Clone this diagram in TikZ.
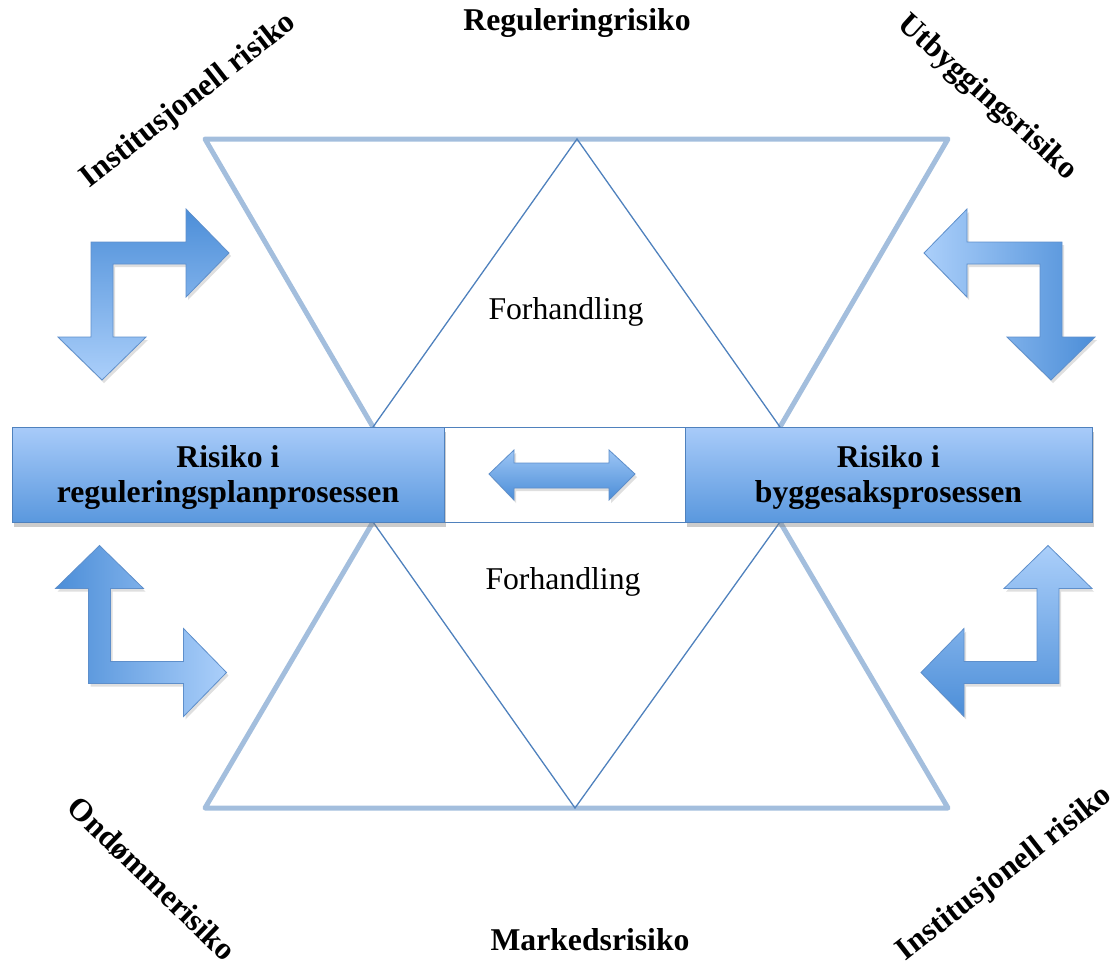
\documentclass[tikz,border=0pt]{standalone}
\usepackage{fontspec}
\setmainfont{Liberation Serif}
\usetikzlibrary{shadows}

\definecolor{edgelight}{HTML}{A3BEDD}
\definecolor{edgedark}{HTML}{4F81BD}
\definecolor{boxtop}{HTML}{A8CBF9}
\definecolor{boxbot}{HTML}{5A98DE}
\definecolor{arrowdark}{HTML}{4C8ED8}
\definecolor{arrowlight}{HTML}{ABCFFA}
\definecolor{arrowedge}{HTML}{5E8FCB}

% Bent two-headed arrow: corner centre (#1,#2), arm directions #3 (x) and #4 (y),
% shading options #5.
\newcommand\bentarrow[5]{%
  \shade[draw=arrowedge,line width=0.8pt,#5,
         drop shadow={opacity=0.25,shadow xshift=2pt,shadow yshift=-3pt}]
    ({#1+#3*(-11)},{#2+#4*(-11)}) -- ({#1+#3*84},{#2+#4*(-11)})
    -- ({#1+#3*84},{#2+#4*(-44)}) -- ({#1+#3*127},{#2})
    -- ({#1+#3*84},{#2+#4*44}) -- ({#1+#3*84},{#2+#4*11})
    -- ({#1+#3*11},{#2+#4*11}) -- ({#1+#3*11},{#2+#4*84})
    -- ({#1+#3*44},{#2+#4*84}) -- ({#1},{#2+#4*127})
    -- ({#1+#3*(-44)},{#2+#4*84}) -- ({#1+#3*(-11)},{#2+#4*84}) -- cycle;}

\begin{document}
\begin{tikzpicture}[x=1pt,y=-1pt,
  outer/.style={edgelight,line width=5pt,line cap=round,line join=round},
  inner/.style={edgedark,line width=1.3pt},
  procbox/.style={draw=edgedark,line width=1pt,top color=boxtop,bottom color=boxbot,
    inner sep=0pt,minimum height=95pt,
    drop shadow={opacity=0.4,shadow xshift=2pt,shadow yshift=-5pt}},
  boxtext/.style={font=\bfseries\fontsize{31.7}{35}\selectfont,align=center,inner sep=0pt},
  risk/.style={font=\bfseries\fontsize{31.7}{35}\selectfont,inner sep=0pt},
  note/.style={font=\fontsize{31.7}{35}\selectfont,inner sep=0pt},
]
\useasboundingbox (0,0) rectangle (1116,967);

% corner points of the two bands
\coordinate (tl) at (205,139);  \coordinate (tm) at (577,139);  \coordinate (tr) at (948,139);
\coordinate (ul) at (373,427);  \coordinate (ur) at (780,427);
\coordinate (ll) at (373,522);  \coordinate (lr) at (780,522);
\coordinate (bl) at (205,808);  \coordinate (bm) at (575,808);  \coordinate (br) at (948,808);

% upper band
\draw[outer] (ul) -- (tl) -- (tr) -- (ur);
\draw[inner] (ul) -- (tm) -- (ur);
% lower band
\draw[outer] (ll) -- (bl) -- (br) -- (lr);
\draw[inner] (ll) -- (bm) -- (lr);

% middle strip between the two process boxes
\node[draw=edgedark,line width=1pt,fill=white,minimum width=241pt,minimum height=95pt,
      inner sep=0pt] (mid) at (564.5,474.5) {};

% process boxes
\node[procbox,minimum width=432pt] (plan) at (228,474.5) {};
\node[procbox,minimum width=407pt] (bygg) at (888.5,474.5) {};
\node[boxtext] (plantxt) at ([yshift=-2.5pt]plan.center) {Risiko i\\reguleringsplanprosessen};
\node[boxtext] (byggtxt) at ([yshift=-2.5pt]bygg.center) {Risiko i\\byggesaksprosessen};

% double arrow in the middle strip
\shade[draw=arrowedge,line width=0.8pt,top color=arrowlight!85!arrowdark,bottom color=arrowdark,
       drop shadow={opacity=0.25,shadow xshift=2pt,shadow yshift=-3pt}]
  (489,474) -- (514,450) -- (514,463) -- (609,463) -- (609,450) -- (635,474)
  -- (609,500) -- (609,488) -- (514,488) -- (514,500) -- cycle;

% bent arrows at the four sides
\bentarrow{102}{253}{1}{1}{top color=arrowdark,bottom color=arrowlight}
\bentarrow{1051}{253}{-1}{1}{left color=arrowlight,right color=arrowdark}
\bentarrow{99.5}{672.5}{1}{-1}{left color=arrowdark,right color=arrowlight}
\bentarrow{1048}{672.5}{-1}{-1}{top color=arrowlight,bottom color=arrowdark}

% negotiation labels
\node[note] (forh1) at (566,312) {Forhandling};
\node[note] (forh2) at (563,582) {Forhandling};

% risk labels
\node[risk] (regul) at (577,23) {Reguleringrisiko};
\node[risk] (marked) at (590,940) {Markedsrisiko};
\node[risk,rotate=38] (inst1) at (189,101) {Institusjonell risiko};
\node[risk,rotate=-42] (utbygg) at (987,98) {Utbyggingsrisiko};
\node[risk,rotate=-44] (omdom) at (152,879) {Ondømmerisiko};
\node[risk,rotate=38] (inst2) at (1005,874) {Institusjonell risiko};
\end{tikzpicture}
\end{document}
